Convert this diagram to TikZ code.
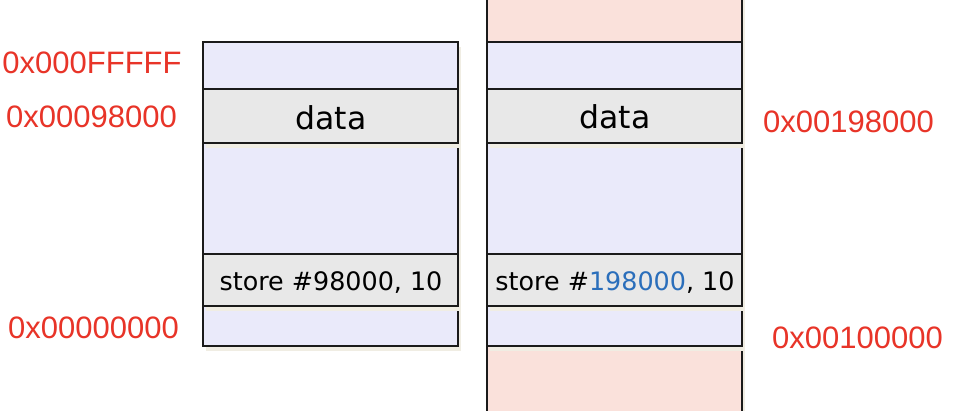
\documentclass[tikz,border=0pt]{standalone}
\usepackage{fontspec}
\setmainfont{DejaVu Sans}
\newfontfamily\addrfont{Liberation Sans}
\usetikzlibrary{shadows}
\definecolor{lavc}{RGB}{234,234,250}
\definecolor{grayc}{RGB}{232,232,232}
\definecolor{pinkc}{RGB}{250,225,219}
\definecolor{shadc}{RGB}{240,237,227}
\definecolor{linec}{RGB}{26,26,26}
\definecolor{addrc}{RGB}{232,52,40}
\definecolor{bluec}{RGB}{42,110,187}
\tikzset{
  x=1pt, y=-1pt,
  cell/.style={rectangle, draw=linec, line width=1.5pt, inner sep=0pt,
    minimum width=255pt,
    drop shadow={shadow xshift=3pt, shadow yshift=-4.5pt, fill=shadc, opacity=1}},
  lavbox/.style={cell, fill=lavc},
  graybox/.style={cell, fill=grayc},
  pinkbox/.style={cell, fill=pinkc},
  addr/.style={anchor=base, text=addrc, inner sep=0pt,
    font=\addrfont\fontsize{31}{31}\selectfont},
  datatext/.style={anchor=base, inner sep=0pt, font=\fontsize{31.5}{31.5}\selectfont},
  storetext/.style={anchor=base, inner sep=0pt, font=\fontsize{25.4}{25.4}\selectfont},
}
\begin{document}
\begin{tikzpicture}
\useasboundingbox (0,0) rectangle (960,410);
\clip (0,0) rectangle (960,410);
\fill[white] (0,0) rectangle (960,410);

% left address space
\node[lavbox, minimum height=304pt] (lmem) at (330.5,194) {};
\draw[linec, line width=1.5pt] (lmem.west |- 0,89) -- (lmem.east |- 0,89);
\node[graybox, minimum height=54pt] (ldata) at (330.5,116) {};
\node[graybox, minimum height=52pt] (lstore) at (330.5,280) {};
\node[datatext] (ldatat) at (331,129) {data};
\node[storetext] (lstoret) at (331,290) {store \#98000, 10};

% right address space (relocated)
\node[pinkbox, minimum height=50pt] (rtop) at (614.5,17) {};
\node[pinkbox, minimum height=70pt] (rbot) at (614.5,381) {};
\node[lavbox, minimum height=304pt] (rmem) at (614.5,194) {};
\draw[linec, line width=1.5pt] (rmem.west |- 0,89) -- (rmem.east |- 0,89);
\node[graybox, minimum height=54pt] (rdata) at (614.5,116) {};
\node[graybox, minimum height=52pt] (rstore) at (614.5,280) {};
\node[datatext] (rdatat) at (615,128) {data};
\node[storetext] (rstoret) at (615,290) {store \#\textcolor{bluec}{198000}, 10};

% addresses
\node[addr] (a1) at (92,73) {0x000FFFFF};
\node[addr] (a2) at (91.5,127) {0x00098000};
\node[addr] (a3) at (93.5,338) {0x00000000};
\node[addr] (a4) at (848.5,132) {0x00198000};
\node[addr] (a5) at (857.5,348) {0x00100000};
\end{tikzpicture}
\end{document}
